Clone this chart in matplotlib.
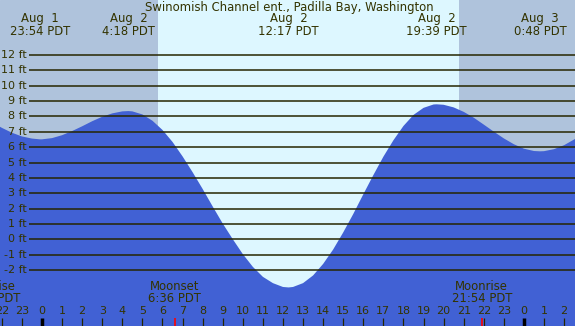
import matplotlib
matplotlib.use("Agg")
import matplotlib.pyplot as plt
import matplotlib.transforms as mtransforms

# ---- data (hours relative to Aug 2 00:00 PDT, heights in ft) ----
tide_hours = [-2.5, -2.0, -1.5, -1.0, -0.5, -0.1, 0.0, 0.5, 1.0, 1.5, 2.0, 2.5, 3.0, 3.5,
              4.0, 4.3, 4.5, 5.0, 5.5, 6.0, 6.5, 7.0, 7.5, 8.0, 8.5, 9.0, 9.5, 10.0,
              10.5, 11.0, 11.5, 12.0, 12.28, 12.5, 13.0, 13.5, 14.0, 14.5, 15.0, 15.5,
              16.0, 16.5, 17.0, 17.5, 18.0, 18.5, 19.0, 19.5, 19.65, 20.0, 20.5, 21.0,
              21.5, 22.0, 22.5, 23.0, 23.5, 24.0, 24.5, 24.8, 25.0, 25.5, 26.0, 26.5, 27.0]
tide_ft = [7.62, 7.26, 6.94, 6.70, 6.56, 6.51, 6.51, 6.59, 6.78, 7.05, 7.36, 7.69, 7.98, 8.20,
           8.33, 8.35, 8.33, 8.13, 7.72, 7.12, 6.34, 5.40, 4.37, 3.28, 2.14, 1.03, 0.01, -0.96,
           -1.79, -2.44, -2.85, -3.10, -3.13, -3.10, -2.85, -2.35, -1.60, -0.66, 0.45, 1.65,
           2.93, 4.18, 5.38, 6.45, 7.38, 8.10, 8.56, 8.78, 8.79, 8.76, 8.59, 8.30,
           7.92, 7.47, 7.01, 6.57, 6.19, 5.90, 5.75, 5.73, 5.74, 5.87, 6.13, 6.50, 6.95]

extreme_hours = [-0.1, 4.3, 12.283, 19.65, 24.8]
extreme_dates = ["Aug  1", "Aug  2", "Aug  2", "Aug  2", "Aug  3"]
extreme_times = ["23:54 PDT", "4:18 PDT", "12:17 PDT", "19:39 PDT", "0:48 PDT"]

level_ft = list(range(-2, 13))
level_labels = [f"{v} ft" for v in level_ft]

hour_ticks = list(range(-2, 27))
hour_labels = [str(h % 24) for h in hour_ticks]
midnights = [0, 24]

sunrise, sunset = 5.77, 20.77
moon_hours = [-2.6, 6.6, 21.9]
moon_names = ["Moonrise", "Moonset", "Moonrise"]
moon_times = ["21:24 PDT", "6:36 PDT", "21:54 PDT"]

title = "Swinomish Channel ent., Padilla Bay, Washington"

# ---- style ----
NIGHT = "#afc3dc"
DAY = "#ddf7ff"
TIDE = "#4161d4"
LINE = "#262600"
TEXT = "#333300"
FS = 8
FS_BIG = 8.4

fig = plt.figure(figsize=(5.75, 3.26), dpi=100)
ax = fig.add_axes([0, 0, 1, 1])
ax.set_xlim(-2.092, 26.543)
ax.set_ylim(-5.64, 15.58)
ax.axis("off")
ax.add_patch(plt.Rectangle((0, 0), 1, 1, transform=ax.transAxes, color=NIGHT, zorder=0))
ax.axvspan(sunrise, sunset, color=DAY, zorder=1, lw=0)

ax.fill_between(tide_hours, tide_ft, -10, color=TIDE, lw=0, zorder=2)

ax.hlines(level_ft, -0.65, 27, color=LINE, lw=1.1, zorder=3)
for v, lab in zip(level_ft, level_labels):
    ax.text(-0.75, v, lab, ha="right", va="center", fontsize=FS, color=TEXT, zorder=5)

trans = mtransforms.blended_transform_factory(ax.transData, ax.transAxes)

ax.text(12.3, 0.978, title, transform=trans, ha="center", va="center", fontsize=FS_BIG, color=TEXT)
for h, d, t in zip(extreme_hours, extreme_dates, extreme_times):
    ax.text(h, 0.942, d, transform=trans, ha="center", va="center", fontsize=FS_BIG, color=TEXT)
    ax.text(h, 0.902, t, transform=trans, ha="center", va="center", fontsize=FS_BIG, color=TEXT)

for h, lab in zip(hour_ticks, hour_labels):
    ax.text(h, 0.046, lab, transform=trans, ha="center", va="center", fontsize=FS, color=TEXT)
    if h in midnights:
        ax.vlines(h, 0, 0.025, transform=trans, color="black", lw=2.5, zorder=4)
    else:
        ax.vlines(h, 0, 0.025, transform=trans, color=LINE, lw=0.9, zorder=4)

for h, n, t in zip(moon_hours, moon_names, moon_times):
    ax.text(h, 0.12, n, transform=trans, ha="center", va="center", fontsize=FS_BIG, color=TEXT)
    ax.text(h, 0.083, t, transform=trans, ha="center", va="center", fontsize=FS_BIG, color=TEXT)
    ax.vlines(h, 0, 0.025, transform=trans, color="red", lw=1.2, zorder=4)

fig.savefig("out.png", dpi=100)
